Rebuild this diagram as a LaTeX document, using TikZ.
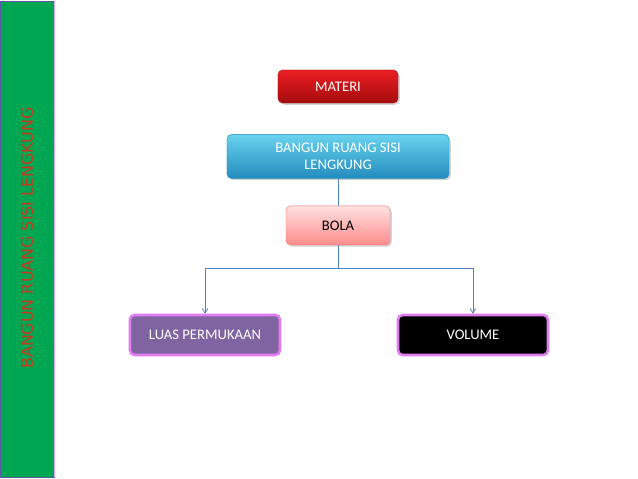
\documentclass[tikz,border=0pt]{standalone}
\usepackage{fontspec}
\setmainfont{Carlito}
\newfontfamily\sidefont{DejaVu Sans}
\usetikzlibrary{arrows.meta,positioning,shadows}

\definecolor{sidegreen}{RGB}{0,166,81}
\definecolor{sidered}{RGB}{205,55,30}
\definecolor{linkblue}{RGB}{79,129,189}
\definecolor{boxpurple}{RGB}{128,100,162}
\definecolor{boxrim}{RGB}{224,124,240}
\definecolor{cyantop}{RGB}{105,210,238}
\definecolor{cyanbot}{RGB}{35,140,190}
\definecolor{redtop}{RGB}{235,30,35}
\definecolor{redbot}{RGB}{165,12,14}

\begin{document}
\begin{tikzpicture}[
      x=0.03cm, y=-0.03cm,
      font=\fontsize{12.5}{15}\selectfont,
      box/.style={rectangle, rounded corners=4pt, align=center, inner sep=3pt,
          drop shadow={shadow xshift=1.5pt, shadow yshift=-1.5pt, opacity=0.35}},
      boxred/.style={box, draw=redbot, top color=redtop, bottom color=redbot,
          text=white, minimum width=3.6cm, minimum height=0.99cm},
      boxcyan/.style={box, draw=cyanbot, top color=cyantop, bottom color=cyanbot,
          text=white, minimum width=6.66cm, minimum height=1.32cm},
      boxpink/.style={box, draw=red!55!white, top color=red!12!white,
          bottom color=red!45!white, text=black,
          minimum width=3.12cm, minimum height=1.17cm},
      boxleaf/.style={rectangle, rounded corners=4pt, draw=boxrim, line width=2.2pt,
          text=white, minimum width=4.5cm, minimum height=1.2cm},
      link/.style={draw=linkblue, line width=0.6pt},
      linkarr/.style={link, -{Straight Barb[length=4pt, width=5pt]}}
  ]
  \useasboundingbox (0,0) rectangle (638,479);
  % side bar
  \node[rectangle, draw=gray!70!blue, fill=sidegreen, minimum width=1.62cm,
        minimum height=14.28cm, inner sep=0pt] (side) at (27,239) {};
  \draw[boxrim!70, line width=0.8pt] (side.north east) -- (side.south east);
  \node[rotate=90, text=sidered, font=\sidefont\fontsize{13.6}{16}\selectfont]
        (sidetext) at (27,238) {BANGUN RUANG SISI LENGKUNG};
  % boxes
  \node[boxred] (materi) at (338,86.5) {MATERI};
  \node[boxcyan, below=0.93cm of materi.south, anchor=north] (bangun)
        {BANGUN RUANG SISI\\LENGKUNG};
  \node[boxpink, below=0.81cm of bangun.south, anchor=north] (bola) {BOLA};
  \coordinate (split) at (bola.south |- 0,268);
  \node[boxleaf, fill=boxpurple] (luas) at (205,335) {LUAS PERMUKAAN};
  \node[boxleaf, fill=black] (volume) at (473,335) {VOLUME};
  % connectors
  \draw[link] (bangun.south) -- (bola.north);
  \draw[link] (bola.south) -- (split);
  \draw[linkarr] (split) -| (luas.north);
  \draw[linkarr] (split) -| (volume.north);
\end{tikzpicture}
\end{document}
